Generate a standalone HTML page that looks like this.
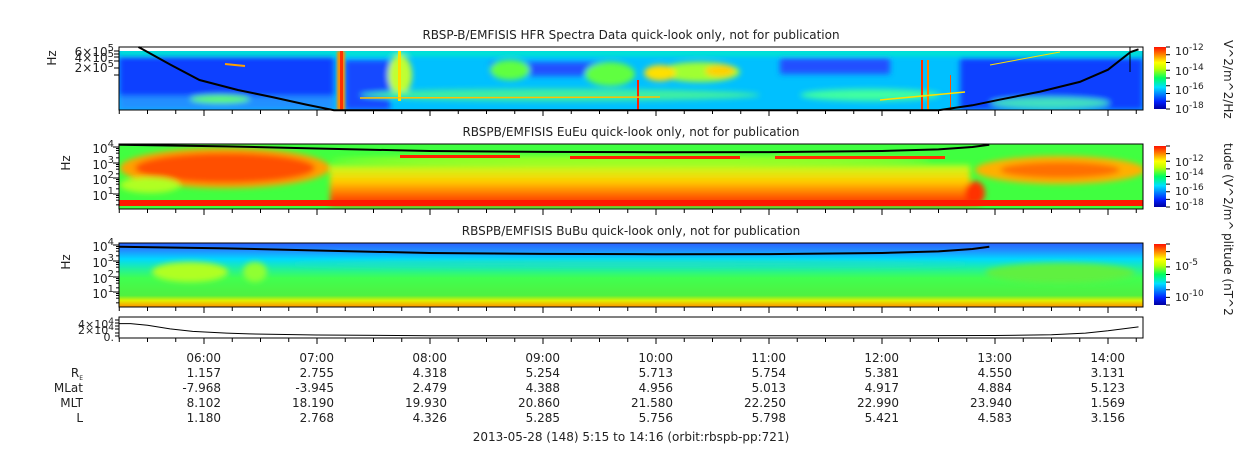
<!DOCTYPE html>
<html><head><meta charset="utf-8"><style>
body{margin:0;background:#fff;width:1250px;height:449px;overflow:hidden;font-family:"DejaVu Sans","Liberation Sans",sans-serif;}
svg text{font-family:"DejaVu Sans","Liberation Sans",sans-serif;fill:#222;}
</style></head><body>
<svg id="c" width="1250" height="449" viewBox="0 0 1250 449" xmlns="http://www.w3.org/2000/svg">
<defs>
<filter id="bl" x="-20%" y="-50%" width="140%" height="200%"><feGaussianBlur stdDeviation="3"/></filter>
<filter id="bl2" x="-20%" y="-50%" width="140%" height="200%"><feGaussianBlur stdDeviation="1.2"/></filter>
<clipPath id="cp1"><rect x="119" y="51" width="1024" height="59"/></clipPath>
<clipPath id="cp2"><rect x="119" y="144" width="1024" height="65"/></clipPath>
<clipPath id="cp3"><rect x="119" y="243" width="1024" height="64"/></clipPath>
<linearGradient id="jet" x1="0" y1="1" x2="0" y2="0">
<stop offset="0" stop-color="#0000a0"/><stop offset="0.12" stop-color="#0020ff"/><stop offset="0.35" stop-color="#00e0ff"/><stop offset="0.5" stop-color="#00ff60"/><stop offset="0.65" stop-color="#c0ff00"/><stop offset="0.75" stop-color="#ffff00"/><stop offset="0.88" stop-color="#ff8000"/><stop offset="1" stop-color="#ff1000"/>
</linearGradient>
<linearGradient id="p3bg" x1="0" y1="0" x2="0" y2="1">
<stop offset="0" stop-color="#2a60ff"/><stop offset="0.12" stop-color="#2090ff"/><stop offset="0.25" stop-color="#00d8ff"/><stop offset="0.4" stop-color="#20f0a0"/><stop offset="0.55" stop-color="#40ff50"/><stop offset="0.82" stop-color="#50f040"/><stop offset="0.9" stop-color="#e0f000"/><stop offset="1" stop-color="#ff9000"/>
</linearGradient>
<linearGradient id="p2low" x1="0" y1="0" x2="0" y2="1">
<stop offset="0" stop-color="#c0ff20"/><stop offset="0.4" stop-color="#ffd000"/><stop offset="1" stop-color="#ff2000"/>
</linearGradient>
</defs>

<!-- Panel 1 -->
<g clip-path="url(#cp1)">
<rect x="119" y="51" width="1024" height="59" fill="#00c0ff"/>
<g filter="url(#bl)">
<rect x="119" y="51" width="1024" height="4" fill="#00ffb0"/>
<rect x="119" y="56" width="215" height="40" fill="#1040ff"/>
<rect x="119" y="96" width="215" height="14" fill="#2090ff"/>
<rect x="345" y="60" width="45" height="50" fill="#1848ff"/>
<rect x="490" y="62" width="120" height="14" fill="#2050ff"/>
<rect x="780" y="58" width="110" height="16" fill="#2050ff"/>
<rect x="960" y="58" width="183" height="52" fill="#1040ff"/>
<ellipse cx="510" cy="70" rx="20" ry="10" fill="#60ff40"/>
<ellipse cx="610" cy="74" rx="25" ry="12" fill="#60ff40"/>
<ellipse cx="700" cy="72" rx="40" ry="10" fill="#a0ff30"/>
<ellipse cx="660" cy="73" rx="16" ry="8" fill="#ffe000"/>
<ellipse cx="720" cy="71" rx="15" ry="6" fill="#ffd000"/>
<ellipse cx="400" cy="75" rx="12" ry="20" fill="#c0ff30"/>
<ellipse cx="560" cy="95" rx="200" ry="6" fill="#40f0a0"/>
<ellipse cx="870" cy="95" rx="70" ry="6" fill="#40ffa0"/>
<ellipse cx="1050" cy="103" rx="60" ry="6" fill="#40e0c0"/>
<ellipse cx="220" cy="99" rx="30" ry="4" fill="#60ff60"/>
</g>
<path d="M225 64 L245 66" stroke="#ffa000" stroke-width="2" fill="none"/>
<rect x="337" y="51" width="8" height="59" fill="#ff9000" filter="url(#bl2)"/>
<rect x="340" y="51" width="3" height="59" fill="#ff3000"/>
<rect x="398" y="51" width="3" height="50" fill="#ffe000"/>
<rect x="637" y="80" width="2" height="30" fill="#ff2000"/>
<rect x="921" y="60" width="2" height="50" fill="#ff3000"/>
<rect x="927" y="60" width="2" height="50" fill="#ff8000"/>
<rect x="950" y="75" width="1" height="35" fill="#ff5000"/>
<path d="M360 98 L660 97" stroke="#ffc000" stroke-width="1.5" fill="none"/>
<path d="M880 100 L965 92" stroke="#ffe000" stroke-width="1.5" fill="none"/>
<path d="M990 65 L1060 52" stroke="#ffe000" stroke-width="1" fill="none"/>
</g>
<g id="curve1"></g>
<rect x="119" y="47" width="1024" height="63" fill="none" stroke="#000" stroke-width="1"/>
<line x1="1130" y1="47" x2="1130" y2="72" stroke="#000" stroke-width="1"/>

<!-- Panel 2 -->
<g clip-path="url(#cp2)">
<rect x="119" y="144" width="1024" height="65" fill="#40ff40"/>
<g filter="url(#bl)">
<rect x="330" y="165" width="640" height="40" fill="url(#p2low)"/>
<ellipse cx="225" cy="168" rx="105" ry="20" fill="#ffa000"/>
<ellipse cx="225" cy="168" rx="90" ry="15" fill="#ff5000"/>
<ellipse cx="1060" cy="170" rx="85" ry="14" fill="#ffb000"/>
<ellipse cx="1060" cy="170" rx="60" ry="8" fill="#ff7000"/>
<ellipse cx="975" cy="193" rx="10" ry="12" fill="#ff3000"/>
<ellipse cx="150" cy="185" rx="30" ry="8" fill="#b0ff20"/>
<ellipse cx="630" cy="160" rx="300" ry="4" fill="#a0ff20"/>
</g>
<rect x="400" y="155" width="120" height="3" fill="#ff2000"/>
<rect x="570" y="156" width="170" height="3" fill="#ff2000"/>
<rect x="775" y="156" width="170" height="3" fill="#ff3000"/>
<rect x="119" y="200" width="1024" height="6" fill="#ff1800"/>
</g>
<g id="curve2"></g>
<rect x="119" y="144" width="1024" height="65" fill="none" stroke="#000" stroke-width="1"/>

<!-- Panel 3 -->
<g clip-path="url(#cp3)">
<rect x="119" y="243" width="1024" height="64" fill="url(#p3bg)"/>
<g filter="url(#bl)">
<ellipse cx="190" cy="272" rx="38" ry="10" fill="#b0ff20"/>
<ellipse cx="255" cy="272" rx="12" ry="10" fill="#90ff30"/>
<ellipse cx="1060" cy="273" rx="75" ry="10" fill="#60f040"/>
<ellipse cx="630" cy="264" rx="340" ry="3" fill="#20e0c0"/>
</g>
</g>
<g id="curve3"></g>
<rect x="119" y="243" width="1024" height="64" fill="none" stroke="#000" stroke-width="1"/>

<!-- Panel 4 -->
<rect x="119" y="317" width="1024" height="21" fill="#fff" stroke="#000" stroke-width="1"/>
<g id="curve4"></g>

<!-- colorbars -->
<rect x="1154" y="47" width="12" height="62" fill="url(#jet)"/>
<rect x="1154" y="146" width="12" height="61" fill="url(#jet)"/>
<rect x="1154" y="244" width="12" height="61" fill="url(#jet)"/>
<g font-size="11">
<text x="1175" y="55">10<tspan dy="-5" font-size="9">-12</tspan></text>
<text x="1175" y="75">10<tspan dy="-5" font-size="9">-14</tspan></text>
<text x="1175" y="94">10<tspan dy="-5" font-size="9">-16</tspan></text>
<text x="1175" y="113">10<tspan dy="-5" font-size="9">-18</tspan></text>
<text x="1175" y="166">10<tspan dy="-5" font-size="9">-12</tspan></text>
<text x="1175" y="180">10<tspan dy="-5" font-size="9">-14</tspan></text>
<text x="1175" y="195">10<tspan dy="-5" font-size="9">-16</tspan></text>
<text x="1175" y="210">10<tspan dy="-5" font-size="9">-18</tspan></text>
<text x="1175" y="270">10<tspan dy="-5" font-size="9">-5</tspan></text>
<text x="1175" y="301">10<tspan dy="-5" font-size="9">-10</tspan></text>
</g>
<g font-size="12">
<text transform="translate(1224,40) rotate(90)">V^2/m^2/Hz</text>
<text transform="translate(1224,143) rotate(90)">tude (V^2/m^</text>
<text transform="translate(1224,233) rotate(90)">plitude (nT^2</text>
</g>
<g id="cbticks"></g>

<!-- titles -->
<g font-size="12" text-anchor="middle">
<text x="631" y="39">RBSP-B/EMFISIS  HFR Spectra Data quick-look only, not for publication</text>
<text x="631" y="136">RBSPB/EMFISIS  EuEu quick-look only, not for publication</text>
<text x="631" y="235">RBSPB/EMFISIS  BuBu quick-look only, not for publication</text>
</g>

<!-- y axis labels -->
<g font-size="12" text-anchor="end">
<text x="114" y="56">6×10<tspan dy="-5" font-size="10">5</tspan></text>
<text x="114" y="62">4×10<tspan dy="-5" font-size="10">5</tspan></text>
<text x="114" y="72">2×10<tspan dy="-5" font-size="10">5</tspan></text>
<text x="114" y="153">10<tspan dy="-6" font-size="10">4</tspan></text>
<text x="114" y="169">10<tspan dy="-6" font-size="10">3</tspan></text>
<text x="114" y="184">10<tspan dy="-6" font-size="10">2</tspan></text>
<text x="114" y="200">10<tspan dy="-6" font-size="10">1</tspan></text>
<text x="114" y="251">10<tspan dy="-6" font-size="10">4</tspan></text>
<text x="114" y="267">10<tspan dy="-6" font-size="10">3</tspan></text>
<text x="114" y="283">10<tspan dy="-6" font-size="10">2</tspan></text>
<text x="114" y="298">10<tspan dy="-6" font-size="10">1</tspan></text>
<text x="114" y="328" font-size="11">4×10<tspan dy="-4" font-size="9">4</tspan></text>
<text x="114" y="334" font-size="11">2×10<tspan dy="-4" font-size="9">4</tspan></text>
<text x="114" y="341" font-size="11">0.</text>
</g>
<g font-size="12">
<text transform="translate(56,58) rotate(-90)" text-anchor="middle">Hz</text>
<text transform="translate(70,163) rotate(-90)" text-anchor="middle">Hz</text>
<text transform="translate(70,262) rotate(-90)" text-anchor="middle">Hz</text>
</g>
<g id="yticks"></g>
<g id="xticks"></g>

<!-- ephemeris -->
<g font-size="12" text-anchor="end">
<text x="83" y="377">R<tspan font-size="6" dy="3">E</tspan></text>
<text x="83" y="392">MLat</text>
<text x="83" y="407">MLT</text>
<text x="83" y="422">L</text>
</g>
<g id="eph" font-size="12" text-anchor="end"></g>
<text x="631" y="441" font-size="12" text-anchor="middle">2013-05-28 (148) 5:15 to 14:16 (orbit:rbspb-pp:721)</text>
</svg>
<script>
const tickTimes = ["06:00","07:00","08:00","09:00","10:00","11:00","12:00","13:00","14:00"];
const rE   = ["1.157","2.755","4.318","5.254","5.713","5.754","5.381","4.550","3.131"];
const mLat = ["-7.968","-3.945","2.479","4.388","4.956","5.013","4.917","4.884","5.123"];
const mLT  = ["8.102","18.190","19.930","20.860","21.580","22.250","22.990","23.940","1.569"];
const lVal = ["1.180","2.768","4.326","5.285","5.756","5.798","5.421","4.583","3.156"];
// fce curve in HFR panel (hours, Hz)
const hfrT = [5.42,5.7,5.96,6.3,6.6,6.9,7.15,12.5,12.8,13.04,13.4,13.75,14.0,14.2,14.27];
const hfrF = [750000,250000,94000,50000,32000,20000,14000,14000,19000,27000,45000,83000,180000,550000,650000];
// fce curve for waveform panels (hours, Hz)
const fceT = [5.25,6.2,7.0,8.0,9.0,10.0,11.0,12.0,12.5,12.8,12.95];
const fceF = [14000,11000,8000,5500,4800,4600,4700,5500,7000,10000,14000];
// field magnitude (hours, nT-ish)
const magT = [5.25,5.35,5.5,5.7,5.9,6.2,6.4,7.0,8.0,10.0,12.0,13.0,13.5,13.8,14.0,14.27];
const magV = [38000,38000,33000,22000,14000,9000,6500,3000,1000,500,600,1500,4000,9000,16000,28000];

const NS='http://www.w3.org/2000/svg';
const xOf = t => 204 + (t-6)*113;
const yHfr = f => 68 - 36.5*Math.log10(f/2e5);
const yEu = f => 147 - 15.5*(Math.log10(f)-4);
const yBu = f => 249 - 15.5*(Math.log10(f)-4);
const yMag = v => 336 - v/1e4*3.25;
function mk(tag, attrs, parent){const e=document.createElementNS(NS,tag);for(const k in attrs)e.setAttribute(k,attrs[k]);parent.appendChild(e);return e;}
function curve(id, ts, vs, yf, name, w){
  const g=document.getElementById(id);
  const d=ts.map((t,i)=>(i?'L':'M')+xOf(t).toFixed(1)+' '+yf(vs[i]).toFixed(1)).join(' ');
  const p=mk('path',{d:d,fill:'none',stroke:'#000','stroke-width':w},g);
  
  
}
curve('curve1',hfrT,hfrF,yHfr,'hfr-fce-curve',2);
curve('curve2',fceT,fceF,yEu,'eueu-fce-curve',2);
curve('curve3',fceT,fceF,yBu,'bubu-fce-curve',2);
curve('curve4',magT,magV,yMag,'field-magnitude-line',1);

// x ticks
const xg=document.getElementById('xticks');
[110,209,307,338].forEach(yb=>{
  for(let m=-4;m<37;m++){
    const x=204 + m*28.25;
    if(x<119||x>1143) continue;
    const major=(m%4===0);
    mk('line',{x1:x,x2:x,y1:yb,y2:yb+(major?6:4),stroke:'#000','stroke-width':1},xg);
  }
});
// y ticks
const yg=document.getElementById('yticks');
[51,54,57,61,68,75].forEach(y=>mk('line',{x1:114,x2:119,y1:y,y2:y,stroke:'#000'},yg));
[[147,163,178,194],[245,261,277,292]].forEach(arr=>arr.forEach(y0=>{
  mk('line',{x1:113,x2:119,y1:y0,y2:y0,stroke:'#000'},yg);
  for(let k=2;k<10;k+=2){const y=y0+15.5*(1-Math.log10(k));mk('line',{x1:116,x2:119,y1:y,y2:y,stroke:'#000'},yg);}
}));
[320,323,326,329,333,336].forEach(y=>mk('line',{x1:115,x2:119,y1:y,y2:y,stroke:'#000'},yg));
// colorbar ticks
const cg=document.getElementById('cbticks');
[[47,109],[146,207],[244,305]].forEach(([a,b])=>{
  for(let i=0;i<=8;i++){const y=a+(b-a)*i/8;mk('line',{x1:1166,x2:1170,y1:y,y2:y,stroke:'#000'},cg);}
});
// ephemeris
const eg=document.getElementById('eph');
const rows=[[tickTimes,362,'time-label'],[rE,377,'re-value'],[mLat,392,'mlat-value'],[mLT,407,'mlt-value'],[lVal,422,'l-value']];
rows.forEach(([arr,y,nm])=>arr.forEach((s,i)=>{
  const t=mk('text',{x:221+i*113,y:y},eg);t.textContent=s;
  
  
}));
</script>
</body></html>
